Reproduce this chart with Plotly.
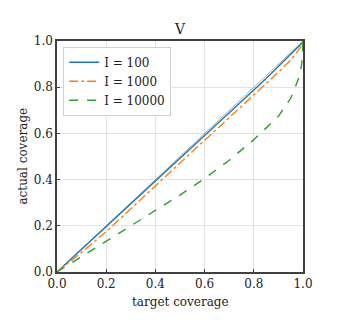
import plotly.graph_objects as go

# target coverage levels and the measured coverage for each I
target = [0.0, 0.1, 0.2, 0.3, 0.4, 0.5, 0.6, 0.7, 0.8, 0.85, 0.9, 0.95, 0.98, 0.99, 0.995, 1.0]
cov_100 = [0.0, 0.098, 0.197, 0.295, 0.392, 0.491, 0.59, 0.689, 0.788, 0.838, 0.889, 0.94, 0.972, 0.983, 0.99, 1.0]
cov_1000 = [0.0, 0.085, 0.175, 0.275, 0.375, 0.472, 0.57, 0.667, 0.765, 0.815, 0.865, 0.918, 0.955, 0.972, 0.983, 1.0]
cov_10000 = [0.0, 0.066, 0.133, 0.198, 0.264, 0.333, 0.405, 0.484, 0.573, 0.622, 0.674, 0.752, 0.832, 0.872, 0.902, 1.0]
diag = [0.0, 1.0]

font = 'DejaVu Serif, serif'
fig = go.Figure()

fig.add_trace(go.Scatter(x=diag, y=diag, mode='lines', showlegend=False,
                         line=dict(color='#b0b0b0', width=1), hoverinfo='skip'))
fig.add_trace(go.Scatter(x=target, y=cov_100, mode='lines', name='I = 100',
                         line=dict(color='#1f77b4', width=1.4)))
fig.add_trace(go.Scatter(x=target, y=cov_1000, mode='lines', name='I = 1000',
                         line=dict(color='#ff7f0e', width=1.4, dash='dashdot')))
fig.add_trace(go.Scatter(x=target, y=cov_10000, mode='lines', name='I = 10000',
                         line=dict(color='#2ca02c', width=1.4, dash='dash')))

axis_style = dict(
    range=[0, 1], dtick=0.2, tickformat='.1f',
    showgrid=True, gridcolor='#e3e3e3', gridwidth=1,
    showline=True, linecolor='#404040', linewidth=1.5, mirror=True,
    ticks='inside', ticklen=3, tickcolor='#404040',
    zeroline=False, tickfont=dict(family=font, size=12, color='#222'),
)

# the page has an 8px body margin, so the figure is a bit smaller than the window
fig.update_layout(
    width=333, height=323,
    margin=dict(l=49, r=38, t=33, b=59),
    plot_bgcolor='white', paper_bgcolor='white',
    font=dict(family=font, size=12, color='#222'),
    title=dict(text='V', x=0.5, xanchor='center', xref='paper', y=0.934, yanchor='middle',
               font=dict(family=font, size=14, color='#222')),
    xaxis=axis_style,
    yaxis=axis_style,
    legend=dict(x=0.025, y=0.975, xanchor='left', yanchor='top',
                bgcolor='white', bordercolor='#d0d0d0', borderwidth=1,
                font=dict(family=font, size=12), tracegroupgap=0),
    showlegend=True,
)

# axis titles placed as annotations to sit close to the tick labels
fig.add_annotation(text='target coverage', xref='paper', yref='paper', x=0.5, y=-0.128,
                   xanchor='center', yanchor='middle', showarrow=False,
                   font=dict(family=font, size=12, color='#222'))
fig.add_annotation(text='actual coverage', xref='paper', yref='paper', x=-0.142, y=0.5,
                   xanchor='center', yanchor='middle', textangle=-90, showarrow=False,
                   font=dict(family=font, size=12, color='#222'))

fig.write_html('out.html')
